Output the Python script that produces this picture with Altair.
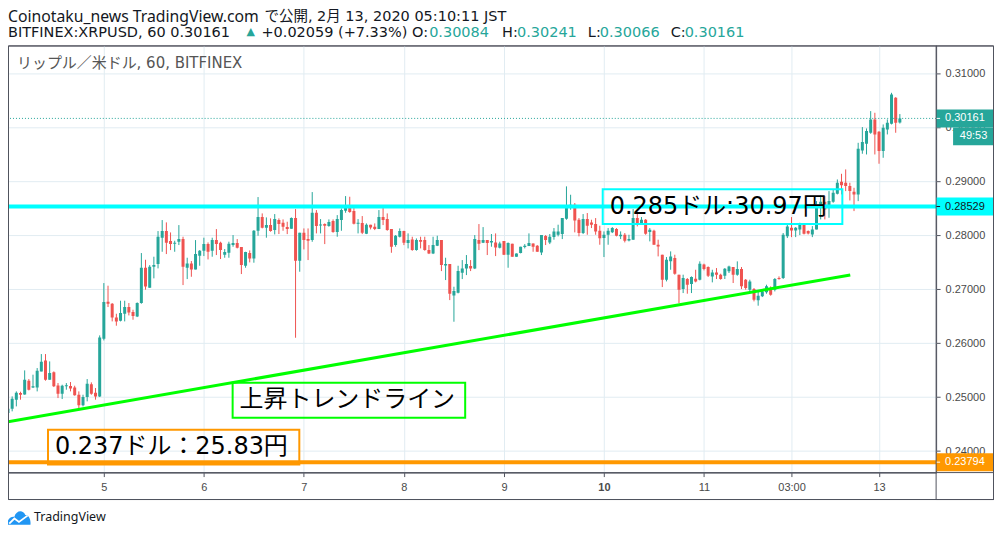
import altair as alt
import pandas as pd

# ---------------- data (BITFINEX:XRPUSD, 60 min candles) ----------------
OPEN = [
    .24704, .24784, .24951, .25074, .25049, .25303, .25179, .25179, .25475, .25679,
    .25321, .25457, .25216, .25062, .25198, .25204, .25179, .25043, .24846, .25000,
    .25235, .25080, .25012, .26080, .26765, .26728, .26475, .26414, .26543, .26667,
    .26574, .26494, .26741, .27395, .27025, .27414, .27463, .27951, .28074, .27889,
    .27840, .27877, .27926, .27395, .27475, .27364, .27617, .27710, .27833, .27710,
    .27907, .27858, .27636, .27673, .27815, .27852, .27778, .27432, .27667, .27568,
    .28080, .28333, .28136, .28185, .28093, .28278, .28228, .28148, .28117, .28314,
    .27524, .28043, .27926, .27907, .28413, .28179, .28203, .28166, .28259, .28055,
    .28277, .28450, .28518, .28444, .28210, .28222, .28024, .28191, .28154, .28111,
    .28333, .28296, .28111, .27814, .27969, .28074, .27852, .27919, .27722, .27907,
    .27907, .27722, .27661, .27802, .27907, .27438, .27463, .26883, .26932, .27303,
    .27383, .27426, .27383, .27907, .27858, .27907, .27864, .27864, .27765, .27889,
    .27636, .27840, .27599, .27667, .27778, .27796, .27846, .27802, .27679, .27982,
    .27864, .27963, .28006, .28019, .28303, .28500, .28562, .28284, .28037, .28297,
    .28235, .28204, .28081, .27945, .28006, .28050, .28111, .27976, .28006, .27901,
    .27914, .28315, .28223, .28284, .28056, .28081, .27821, .27636, .27173, .27513,
    .27575, .27266, .27000, .27186, .27093, .27192, .27173, .27457, .27408, .27235,
    .27309, .27266, .27247, .27328, .27408, .27266, .27371, .27173, .26988, .27000,
    .26791, .26865, .26939, .27007, .26988, .27204, .27204, .27976, .28135, .28086,
    .28104, .28197, .28074, .28012, .28104, .28518, .28617, .28518, .28617, .28765,
    .28987, .28969, .28907, .28802, .28753, .29567, .29691, .29895, .30142, .29913,
    .29555, .29956, .30061, .30543, .30084,
]
HIGH = [
    .24796, .25012, .25105, .25099, .25494, .25333, .25414, .25537, .25796, .25796,
    .25660, .25475, .25259, .25228, .25259, .25278, .25210, .25105, .25043, .25333,
    .25272, .25167, .26142, .27111, .27062, .26741, .26543, .26784, .26784, .26741,
    .26617, .26753, .27667, .27543, .27444, .27599, .28074, .28278, .28235, .28049,
    .27895, .28185, .27969, .27580, .27519, .27907, .27722, .27951, .27864, .27951,
    .28111, .27877, .27741, .27877, .28000, .27926, .27778, .27691, .27716, .28093,
    .28704, .28401, .28327, .28309, .28389, .28309, .28290, .28247, .28327, .28481,
    .28043, .28123, .28123, .28796, .28463, .28296, .28216, .28290, .28290, .28370,
    .28493, .28722, .28710, .28555, .28296, .28352, .28216, .28191, .28216, .28463,
    .28506, .28401, .28111, .28000, .28123, .28080, .28031, .27969, .27938, .27969,
    .27969, .27815, .27969, .27988, .27907, .27580, .27463, .27043, .27432, .27537,
    .27630, .27537, .28000, .28204, .28148, .27907, .28019, .28031, .27877, .27889,
    .27864, .27840, .27661, .27784, .27833, .28031, .27846, .27815, .28000, .28000,
    .28019, .28130, .28192, .28315, .28902, .28747, .28593, .28315, .28389, .28408,
    .28284, .28315, .28173, .28068, .28130, .28148, .28130, .28068, .28037, .28006,
    .28482, .28408, .28334, .28297, .28130, .28099, .27914, .27636, .27593, .27698,
    .27636, .27266, .27266, .27204, .27235, .27358, .27513, .27470, .27420, .27358,
    .27389, .27284, .27389, .27433, .27408, .27513, .27408, .27186, .27173, .27019,
    .26957, .27000, .27081, .27050, .27204, .27235, .28038, .28204, .28333, .28148,
    .28228, .28197, .28086, .28166, .28629, .28740, .28722, .28814, .28845, .29030,
    .29135, .29216, .28969, .28876, .29709, .30000, .29975, .30296, .30265, .29926,
    .30049, .30142, .30635, .30555, .30241,
]
LOW = [
    .24691, .24735, .24827, .24951, .25043, .25123, .25167, .25105, .25475, .25303,
    .25321, .25185, .24981, .24963, .25136, .25105, .25025, .24784, .24827, .24920,
    .25043, .24951, .25000, .26049, .26667, .26401, .26321, .26401, .26401, .26512,
    .26432, .26481, .26728, .26988, .27025, .27198, .27383, .27691, .27648, .27722,
    .27691, .27815, .27074, .27185, .27228, .27364, .27432, .27611, .27549, .27599,
    .27630, .27556, .27580, .27580, .27784, .27753, .27278, .27395, .27494, .27488,
    .27988, .28124, .27951, .28062, .28012, .28019, .28080, .28018, .28117, .26098,
    .27321, .27734, .27537, .27876, .28031, .28031, .27833, .28154, .28043, .27969,
    .28080, .28413, .28413, .28197, .28031, .28018, .28018, .28105, .28092, .28111,
    .28185, .28080, .27672, .27784, .27956, .27814, .27753, .27709, .27710, .27753,
    .27710, .27648, .27648, .27796, .27333, .27167, .26796, .26395, .26920, .27185,
    .27259, .27333, .27370, .27722, .27852, .27630, .27784, .27611, .27753, .27630,
    .27395, .27599, .27599, .27661, .27753, .27796, .27691, .27691, .27630, .27815,
    .27833, .27914, .27976, .27926, .28284, .28469, .28050, .27976, .28019, .28006,
    .28130, .28006, .27821, .27593, .27821, .28037, .27976, .27926, .27864, .27883,
    .27914, .28161, .28192, .28006, .27883, .27821, .27605, .27037, .27142, .27358,
    .27266, .26741, .26926, .26914, .26926, .27124, .27161, .27346, .27223, .27124,
    .27186, .27173, .27186, .27297, .27112, .27247, .27000, .26988, .26945, .26772,
    .26692, .26852, .26914, .26877, .26957, .27173, .27186, .27945, .27962, .27962,
    .28000, .28012, .28012, .27962, .28104, .28290, .28290, .28321, .28598, .28753,
    .28753, .28814, .28641, .28444, .28629, .29506, .29493, .29876, .29493, .29321,
    .29432, .29864, .30049, .29895, .30066,
]
CLOSE = [
    .24784, .24969, .25080, .25043, .25321, .25136, .25198, .25488, .25654, .25321,
    .25444, .25198, .25062, .25210, .25216, .25160, .25031, .24846, .25000, .25247,
    .25062, .25012, .26105, .26759, .26728, .26475, .26401, .26556, .26667, .26568,
    .26500, .26741, .27395, .27049, .27414, .27444, .27969, .28074, .27858, .27833,
    .27858, .27926, .27414, .27475, .27364, .27648, .27710, .27833, .27691, .27907,
    .27833, .27722, .27685, .27840, .27852, .27765, .27444, .27685, .27568, .28080,
    .28333, .28136, .28185, .28074, .28296, .28204, .28154, .28111, .28314, .27524,
    .28043, .27907, .27895, .28413, .28166, .28191, .28172, .28240, .28055, .28296,
    .28463, .28518, .28426, .28210, .28222, .28043, .28191, .28142, .28111, .28333,
    .28277, .28092, .27784, .27987, .28074, .27858, .27907, .27722, .27907, .27877,
    .27722, .27661, .27815, .27907, .27444, .27463, .26914, .26963, .27333, .27383,
    .27463, .27383, .27926, .27840, .27907, .27852, .27889, .27772, .27846, .27636,
    .27852, .27599, .27661, .27784, .27802, .27852, .27784, .27691, .28000, .27907,
    .27969, .28068, .28068, .28315, .28513, .28562, .28272, .28037, .28297, .28173,
    .28192, .28068, .27939, .28006, .28081, .28130, .27988, .28006, .27895, .27926,
    .28315, .28223, .28284, .28025, .28099, .27821, .27790, .27173, .27543, .27605,
    .27284, .26988, .27204, .27081, .27223, .27142, .27470, .27371, .27247, .27309,
    .27266, .27186, .27377, .27420, .27266, .27371, .27050, .27019, .27142, .26803,
    .26877, .26957, .27050, .26896, .27186, .27186, .28007, .28161, .28086, .28135,
    .28185, .28024, .28030, .28104, .28537, .28617, .28475, .28629, .28784, .28969,
    .28925, .28907, .28814, .28753, .29598, .29722, .29926, .30142, .29864, .29555,
    .29987, .30080, .30605, .30080, .30161,
]

# candle index of each date label on the time axis
TICK_INDEX = [23, 47, 71, 95, 119, 143, 167, 188, 209]
TICK_LABELS = ["5", "6", "7", "8", "9", "10", "11", "03:00", "13"]
BOLD_LABEL = "10"

PRICE_TICKS = [0.24, 0.25, 0.26, 0.27, 0.28, 0.29, 0.30, 0.31]

RESISTANCE = 0.28529
SUPPORT = 0.23794
LAST = 0.30161
COUNTDOWN = "49:53"

TREND_N = [0.0, 202.1]
TREND_P = [0.24543, 0.27261]

NOTE_TEXT = ["0.285ドル:30.97円", "上昇トレンドライン", "0.237ドル：25.83円"]
NOTE_N1 = [142.7, 53.9, 9.6]
NOTE_N2 = [200.2, 109.7, 69.9]
NOTE_P1 = [0.28850, 0.25264, 0.24396]
NOTE_P2 = [0.28203, 0.24617, 0.23749]

assert len(OPEN) == len(HIGH) == len(LOW) == len(CLOSE)

# ---------------- styling ----------------
GREEN = "#26a69a"
RED = "#ef5350"
CYAN = "#00ffff"
ORANGE = "#ff9800"
LIME = "#00ff00"
FRAME = "#50535e"
GRID = "#e1ecf2"
AXTXT = "#4a4a4a"
INK = "#131722"
NOTE_COLOR = [CYAN, LIME, ORANGE]

W, H = 930, 428
X_DOMAIN = [0, 222.7]
Y_DOMAIN = [0.23601, 0.31512]
PX = H / (Y_DOMAIN[1] - Y_DOMAIN[0])      # pixels per price unit
CPX = W / (X_DOMAIN[1] - X_DOMAIN[0])     # pixels per candle

xscale = alt.Scale(domain=X_DOMAIN, nice=False, zero=False, padding=0)
yscale = alt.Scale(domain=Y_DOMAIN, nice=False, zero=False, padding=0)

label_expr = "''"
for v, lab in reversed(list(zip(TICK_INDEX, TICK_LABELS))):
    label_expr = f"datum.value == {v} ? '{lab}' : {label_expr}"
bold_value = TICK_INDEX[TICK_LABELS.index(BOLD_LABEL)]

x_axis = alt.Axis(
    values=TICK_INDEX, labelExpr=label_expr, grid=True, gridColor=GRID,
    tickSize=4, tickColor=FRAME, domain=False, title=None,
    labelFont="Liberation Sans", labelFontSize=11, labelColor=AXTXT,
    labelPadding=5, labelFlush=False, labelOverlap=False,
    labelFontWeight={"condition": {"test": f"datum.value == {bold_value}", "value": "bold"},
                     "value": "normal"},
)
y_axis = alt.Axis(
    orient="right", values=PRICE_TICKS, format=".5f", grid=True, gridColor=GRID,
    tickSize=4, tickColor=FRAME, domain=False, title=None,
    labelFont="Liberation Sans", labelFontSize=11, labelColor=AXTXT,
    labelPadding=5, labelAlign="left", labelOverlap=False, labelFlush=False,
)

def X(field):
    return alt.X(field, scale=xscale, axis=x_axis)

def Y(field):
    return alt.Y(field, scale=yscale, axis=y_axis)

# ---------------- tables ----------------
candles = pd.DataFrame({"n": range(len(OPEN)), "o": OPEN, "h": HIGH, "l": LOW, "c": CLOSE})
candles["dir"] = ["up" if c >= o else "down" for o, c in zip(OPEN, CLOSE)]
candles["bb"] = candles[["o", "c"]].min(axis=1)
candles["bt"] = pd.concat([candles[["o", "c"]].max(axis=1), candles["bb"] + 1.0 / PX], axis=1).max(axis=1)

color_enc = alt.Color("dir:N", scale=alt.Scale(domain=["up", "down"], range=[GREEN, RED]), legend=None)
one = pd.DataFrame({"k": [0]})

wicks = alt.Chart(candles).mark_rule(strokeWidth=1, clip=True).encode(
    x=X("n:Q"), y=Y("l:Q"), y2="h:Q", color=color_enc,
)
bodies = alt.Chart(candles).mark_bar(size=3, clip=True).encode(
    x=X("n:Q"), y=Y("bb:Q"), y2="bt:Q", color=color_enc,
)

trend_df = pd.DataFrame({"n": TREND_N, "p": TREND_P})
trend = alt.Chart(trend_df).mark_line(color=LIME, strokeWidth=3, clip=True).encode(
    x=X("n:Q"), y=Y("p:Q")
)

def hline(price, color, width, dash=None):
    kw = dict(color=color, strokeWidth=width)
    if dash:
        kw["strokeDash"] = dash
    return alt.Chart(pd.DataFrame({"p": [price]})).mark_rule(**kw).encode(y=Y("p:Q"))

res_line = hline(RESISTANCE, CYAN, 4)
sup_line = hline(SUPPORT, ORANGE, 4)
last_line = hline(LAST, GREEN, 1, [1, 2])

notes = pd.DataFrame({"t": NOTE_TEXT, "n1": NOTE_N1, "n2": NOTE_N2,
                      "p1": NOTE_P1, "p2": NOTE_P2, "col": NOTE_COLOR})
notes["tn"] = notes["n1"] + 7.0 / CPX
notes["pm"] = (notes["p1"] + notes["p2"]) / 2
note_box = alt.Chart(notes).mark_rect(fillOpacity=0, strokeWidth=2).encode(
    x=X("n1:Q"), x2="n2:Q", y=Y("p1:Q"), y2="p2:Q",
    stroke=alt.Stroke("col:N", scale=None),
)
note_txt = alt.Chart(notes).mark_text(
    align="left", baseline="middle", fontSize=24, color="#000000",
    font="DejaVu Sans, Noto Sans CJK JP",
).encode(x=X("tn:Q"), y=Y("pm:Q"), text="t:N")

# price tags on the right scale
tags = pd.DataFrame({
    "p": [LAST, RESISTANCE, SUPPORT],
    "bg": [GREEN, CYAN, ORANGE],
    "fg": ["#ffffff", INK, "#ffffff"],
})
tags["txt"] = [f"{p:.5f}" for p in tags["p"]]
tags["top"] = tags["p"] + 9.0 / PX
tags["bot"] = tags["p"] - 9.0 / PX
tag_box = alt.Chart(tags).mark_rect().encode(
    x=alt.value(930), x2=alt.value(988), y=Y("top:Q"), y2="bot:Q",
    color=alt.Color("bg:N", scale=None),
)
tag_tick = alt.Chart(tags).mark_rule(strokeWidth=1).encode(
    x=alt.value(930), x2=alt.value(934), y=Y("p:Q"),
    color=alt.Color("fg:N", scale=None),
)
tag_txt = alt.Chart(tags).mark_text(
    align="left", baseline="middle", font="Liberation Sans", fontSize=11
).encode(
    x=alt.value(939), y=Y("p:Q"), text="txt:N", color=alt.Color("fg:N", scale=None),
)

cd = pd.DataFrame({"p": [LAST], "t": [COUNTDOWN]})
cd["top"] = cd["p"] - 9.0 / PX
cd["bot"] = cd["p"] - 27.0 / PX
cd["mid"] = cd["p"] - 18.0 / PX
cd_box = alt.Chart(cd).mark_rect(color=GREEN).encode(
    x=alt.value(947), x2=alt.value(988), y=Y("top:Q"), y2="bot:Q"
)
cd_txt = alt.Chart(cd).mark_text(
    align="center", baseline="middle", font="Liberation Sans", fontSize=11, color="#ffffff"
).encode(x=alt.value(967.5), y=Y("mid:Q"), text="t:N")

# frame around the price / time scales
def box(x1, x2, y1, y2):
    return alt.Chart(one).mark_rect(fillOpacity=0, stroke=FRAME, strokeWidth=1).encode(
        x=alt.value(x1), x2=alt.value(x2), y=alt.value(y1), y2=alt.value(y2)
    )

frame = [
    box(0.5, 987.5, 0.5, 455),
    box(930, 987.5, 0.5, 455),
    box(0.5, 987.5, 428, 455),
]

def label(txt, x, y, color=INK, size=14.5, font="DejaVu Sans, Noto Sans CJK JP", weight="normal"):
    return alt.Chart(one).mark_text(
        text=txt, align="left", baseline="middle", fontSize=size, font=font,
        color=color, fontWeight=weight,
    ).encode(x=alt.value(x), y=alt.value(y))

header = [
    label("Coinotaku_news TradingView.com", 0, -28, font="Noto Sans", size=15.8),
    label("で公開, 2月 13, 2020 05:10:11 JST", 257, -28),
    label("BITFINEX:XRPUSD, 60 0.30161", 0, -12),
    label("▲", 239, -13, color=GREEN, size=11),
    label("+0.02059 (+7.33%) O:", 254, -12),
    label("0.30084", 422, -12, color=GREEN),
    label("H:", 495, -12),
    label("0.30241", 510, -12, color=GREEN),
    label("L:", 581, -12),
    label("0.30066", 593, -12, color=GREEN),
    label("C:", 664, -12),
    label("0.30161", 678, -12, color=GREEN),
    label("リップル／米ドル, 60, BITFINEX", 9, 18, color="#555555", size=15),
    label("TradingView", 26, 473, font="Noto Sans", size=12.5),
]

CLOUD = ("M-1,0.55 C-1.05,0.1 -0.75,-0.2 -0.4,-0.15 C-0.25,-0.7 0.35,-0.8 0.55,-0.3 "
         "C0.85,-0.3 1.05,0.05 1,0.55 Z")
ZIGZAG = "M-0.85,0.45 L-0.4,0.0 L0.0,0.3 L0.75,-0.25"
logo = [
    alt.Chart(one).mark_point(shape=CLOUD, filled=True, size=529, color="#2196f3", opacity=1)
    .encode(x=alt.value(11), y=alt.value(474)),
    alt.Chart(one).mark_point(shape=ZIGZAG, filled=False, size=529, color="#ffffff",
                              strokeWidth=1.8, opacity=1)
    .encode(x=alt.value(11), y=alt.value(474)),
]

chart = alt.layer(
    wicks, bodies, trend, res_line, sup_line, last_line,
    note_box, note_txt,
    tag_box, tag_tick, tag_txt, cd_box, cd_txt,
    *frame, *header, *logo,
).properties(
    width=W, height=H,
    autosize=alt.AutoSizeParams(type="none"),
    padding={"left": 0, "top": 37, "right": 58, "bottom": 54},
).configure_view(stroke=FRAME, strokeWidth=1)

chart.save("out.html", embed_options={"renderer": "svg", "actions": False})
